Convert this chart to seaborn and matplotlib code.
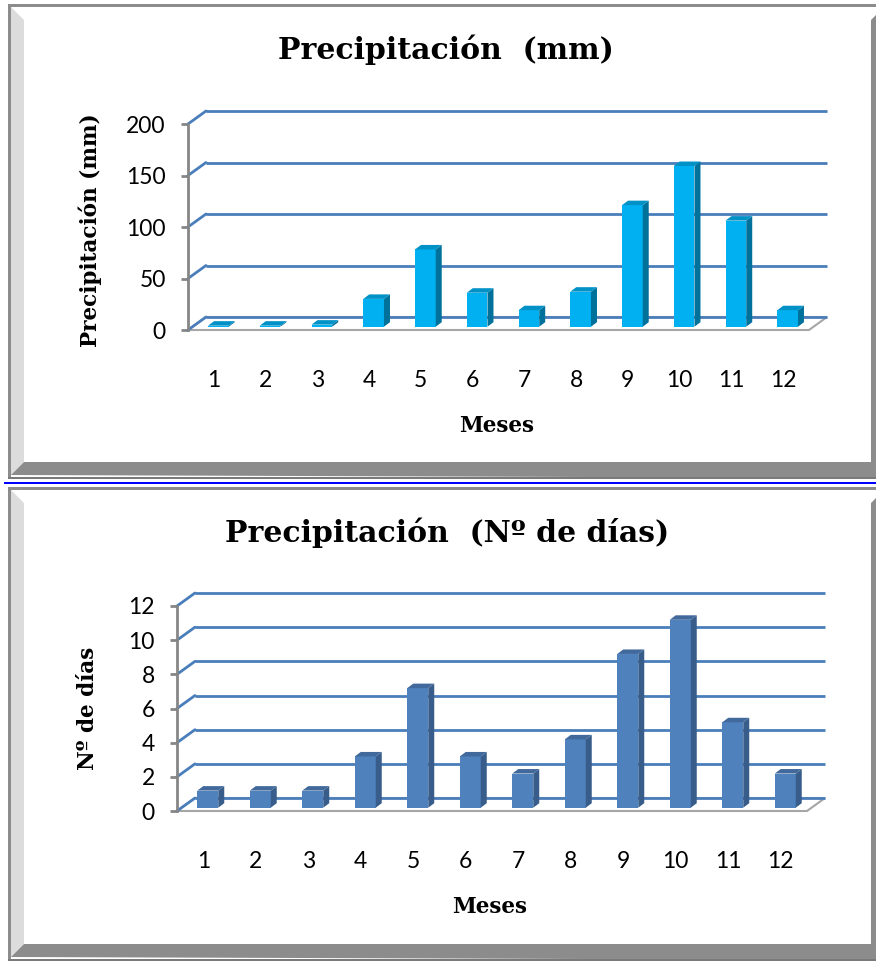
import numpy as np
import pandas as pd
import seaborn as sns
import matplotlib.pyplot as plt
from matplotlib.patches import Polygon, Rectangle

sns.set_theme(style="white")
plt.rcParams["text.color"] = "black"

meses = ["1", "2", "3", "4", "5", "6", "7", "8", "9", "10", "11", "12"]
precip_mm = [1, 1, 2, 27, 75, 33, 16, 34, 118, 156, 103, 16]
precip_dias = [1, 1, 1, 3, 7, 3, 2, 4, 9, 11, 5, 2]

W, H = 876, 963
fig = plt.figure(figsize=(W / 100, H / 100), dpi=100)
fig.patch.set_facecolor("white")

SERIF = "DejaVu Serif"
SANS = "Lato"
GRAY = "#8c8c8c"


def px(x, y):
    return (x / W, 1 - y / H)


def fig_poly(pts, color, z=0):
    fig.add_artist(Polygon([px(*p) for p in pts], closed=True, facecolor=color,
                           edgecolor="none", transform=fig.transFigure, zorder=z))


def panel(top, bottom):
    # outer frame with bevel look
    fig_poly([(8, top), (876, top), (876, top + 3), (8, top + 3)], GRAY)
    fig_poly([(8, top), (11, top), (11, bottom), (8, bottom)], GRAY)
    fig_poly([(11, top + 3), (24, top + 16), (24, bottom - 16), (11, bottom - 3)], "#dcdcdc")
    fig_poly([(11, bottom - 3), (24, bottom - 16), (876, bottom - 16), (876, bottom)], GRAY)
    fig_poly([(8, bottom - 1), (876, bottom - 1), (876, bottom + 1), (8, bottom + 1)], "#7a7a7a")
    fig_poly([(871, top + 16), (876, top + 11), (876, bottom - 16), (871, bottom - 16)], GRAY)


def chart(rect, values, ymax, step, front, side, topc, title, ylabel, title_xy, ylabel_xy, meses_xy):
    left, top_px, width, height = rect
    ax = fig.add_axes([left / W, 1 - (top_px + height) / H, width / W, height / H])
    df = pd.DataFrame({"mes": meses, "valor": values})
    sns.barplot(data=df, x="mes", y="valor", color=front, saturation=1, width=0.4,
                ax=ax, zorder=4, edgecolor="none")
    ax.set_xlim(-0.5, len(meses) - 0.5)
    ax.set_ylim(0, ymax)
    ux = len(meses) / width
    uy = ymax / height
    bx, by = 18 * ux, 13 * uy     # depth of the back wall
    fx, fy = 4.5 * ux, 3.3 * uy   # bars set back from the front
    dx, dy = 6 * ux, 4.5 * uy     # bar depth

    ticks = np.arange(0, ymax + step / 2, step)
    x0, x1 = -0.5, len(meses) - 0.5
    # floor
    ax.add_patch(Polygon([(x0, 0), (x1, 0), (x1 + bx, by), (x0 + bx, by)], closed=True,
                         facecolor="white", edgecolor="#a6a6a6", lw=1.5, clip_on=False, zorder=1))
    for t in ticks:
        ax.plot([x0 + bx, x1 + bx], [t + by, t + by], color="#4a7ebb", lw=2,
                clip_on=False, zorder=2, solid_capstyle="butt")
        ax.plot([x0, x0 + bx], [t, t + by], color="#4a7ebb", lw=2, clip_on=False, zorder=2)

    for p in ax.patches:
        if not isinstance(p, Rectangle):
            continue
        p.set_x(p.get_x() + fx)
        p.set_y(p.get_y() + fy)
        p.set_clip_on(False)
        a, b = p.get_x(), p.get_x() + p.get_width()
        y0, y1 = p.get_y(), p.get_y() + p.get_height()
        ax.add_patch(Polygon([(b, y0), (b + dx, y0 + dy), (b + dx, y1 + dy), (b, y1)],
                             closed=True, facecolor=side, edgecolor="none", clip_on=False, zorder=4))
        ax.add_patch(Polygon([(a, y1), (b, y1), (b + dx, y1 + dy), (a + dx, y1 + dy)],
                             closed=True, facecolor=topc, edgecolor="none", clip_on=False, zorder=4))

    sns.despine(ax=ax, left=False, bottom=True, top=True, right=True)
    ax.spines["left"].set_color("#868686")
    ax.spines["left"].set_linewidth(2)
    ax.set_yticks(ticks)
    ax.set_yticklabels([f"{int(t)}" for t in ticks], fontfamily=SANS, fontsize=16.5)
    ax.tick_params(axis="y", length=5, width=2, color="#868686", pad=11, left=True,
                   labelcolor="black")
    ax.tick_params(axis="x", length=0, pad=29, labelsize=16.5, labelcolor="black")
    for lab in ax.get_xticklabels():
        lab.set_fontfamily(SANS)
    ax.set_xlabel("")
    ax.set_ylabel("")
    ax.patch.set_alpha(0)
    ax.grid(False)

    fig.text(*px(*title_xy), title, ha="center", va="center", fontfamily=SERIF,
             fontweight="bold", fontsize=21.5)
    fig.text(*px(*ylabel_xy), ylabel, ha="center", va="center", rotation=90,
             fontfamily=SERIF, fontweight="bold", fontsize=15.5)
    fig.text(*px(*meses_xy), "Meses", ha="center", va="center", fontfamily=SERIF,
             fontweight="bold", fontsize=15.5)
    return ax


panel(4, 478)
panel(487, 960)
fig_poly([(4, 482), (876, 482), (876, 484.5), (4, 484.5)], "#0000ff")

chart((188, 124, 621, 206), precip_mm, 200, 50, "#00b0f0", "#00719b", "#0091c7",
      "Precipitación  (mm)", "Precipitación (mm)", (446, 50), (90, 230), (497, 426))
chart((177, 606, 630, 205), precip_dias, 12, 2, "#4f81bd", "#385d8a", "#41699c",
      "Precipitación  (Nº de días)", "Nº de días", (447, 533), (88, 708), (490, 907))

fig.savefig("out.png", dpi=100)
